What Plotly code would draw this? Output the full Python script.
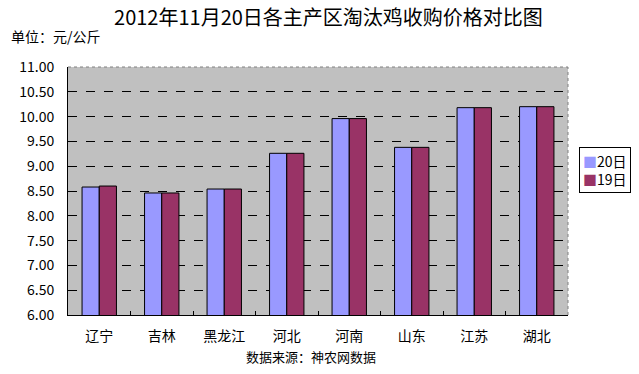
import plotly.graph_objects as go

categories = ["辽宁", "吉林", "黑龙江", "河北", "河南", "山东", "江苏", "湖北"]
price_20 = [8.58, 8.46, 8.54, 9.26, 9.96, 9.38, 10.18, 10.20]
price_19 = [8.60, 8.46, 8.54, 9.26, 9.96, 9.38, 10.18, 10.20]
series_names = ["20日", "19日"]
series_colors = ["#9999FF", "#993366"]
title_text = "2012年11月20日各主产区淘汰鸡收购价格对比图"
unit_text = "单位：元/公斤"
source_text = "数据来源：神农网数据"

CJK = "Noto Sans CJK SC"

fig = go.Figure()
for name, vals, col in zip(series_names, [price_20, price_19], series_colors):
    fig.add_trace(go.Bar(x=categories, y=vals, name=name,
                         marker=dict(color=col, line=dict(color="#000000", width=1))))

fig.update_layout(
    width=639, height=374,
    margin=dict(l=68, r=71, t=67, b=59, autoexpand=False),
    paper_bgcolor="white", plot_bgcolor="#C0C0C0",
    barmode="group", bargap=0.45, bargroupgap=0,
    font=dict(family=CJK, size=13, color="#000000"),
    title=dict(text=title_text, x=0.514, xanchor="center", y=0.952, yanchor="middle",
               font=dict(family=CJK, size=20, color="#000000")),
    showlegend=False,
)
fig.update_yaxes(range=[6, 11], dtick=0.5, tickformat=".2f",
                 showgrid=True, gridcolor="#000000", griddash="dash", gridwidth=1,
                 showline=True, linecolor="#000000", linewidth=1,
                 ticks="", zeroline=False, ticklabelstandoff=10,
                 tickfont=dict(family=CJK, size=14))
fig.update_xaxes(showline=True, linecolor="#000000", linewidth=1,
                 ticks="inside", ticklen=4, tickcolor="#000000", tickson="boundaries",
                 ticklabelstandoff=8,
                 tickfont=dict(family=CJK, size=14))

# right and top plot border (dotted grey)
fig.add_shape(type="line", xref="paper", yref="paper", x0=1, x1=1, y0=0, y1=1,
              line=dict(color="#808080", width=1, dash="dot"))
fig.add_shape(type="line", xref="paper", yref="paper", x0=0, x1=1, y0=1, y1=1,
              line=dict(color="#808080", width=1, dash="dot"))

# compact legend box built from the series names and colours
legend_text = "<br>".join(
    f"<span style='color:{c}'>■</span>{n}" for n, c in zip(series_names, series_colors)
)
fig.add_annotation(text=legend_text, xref="paper", yref="paper", x=1.074, y=0.583,
                   xanchor="center", yanchor="middle", showarrow=False, align="left",
                   bgcolor="white", bordercolor="#000000", borderwidth=1, borderpad=3,
                   font=dict(family=CJK, size=14))

fig.add_annotation(text=unit_text, xref="paper", yref="paper", x=-0.118, y=1.125,
                   xanchor="left", yanchor="middle", showarrow=False,
                   font=dict(family=CJK, size=14))
fig.add_annotation(text=source_text, xref="paper", yref="paper", x=0.486, y=-0.169,
                   xanchor="center", yanchor="middle", showarrow=False,
                   font=dict(family=CJK, size=13))

fig.write_html("out.html", config={"displayModeBar": False},
               post_script="document.body.style.margin='0';")
